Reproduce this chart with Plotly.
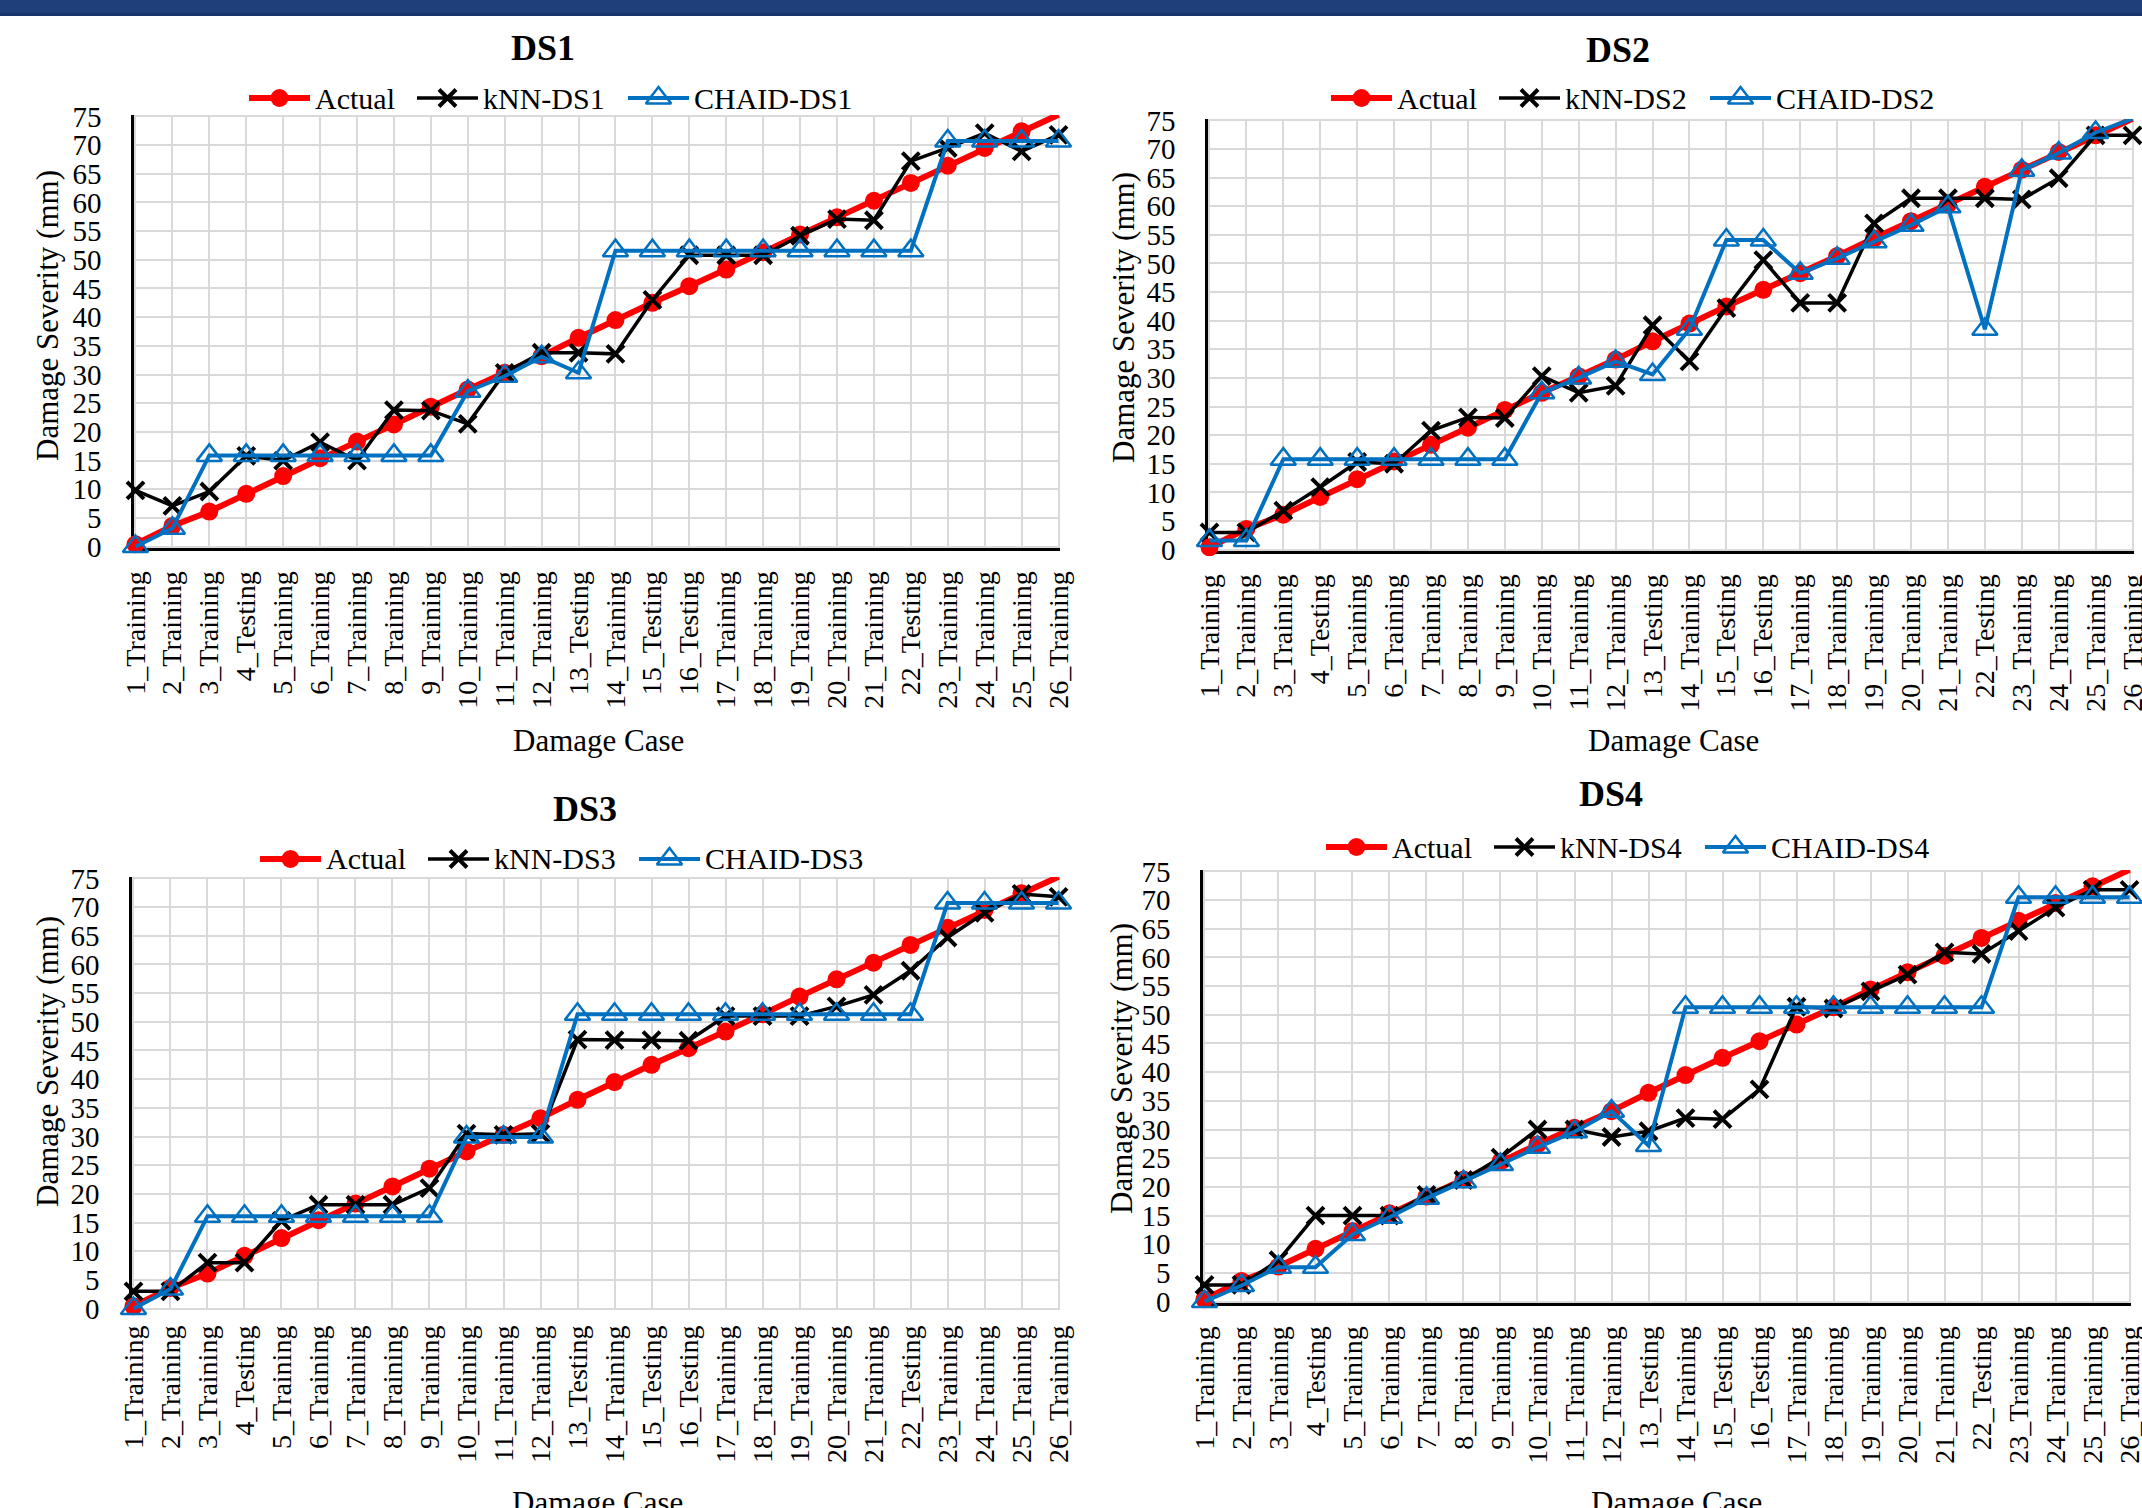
import plotly.graph_objects as go

W, H = 2142, 1508

# ---- data -------------------------------------------------------------
cases = ["1_Training", "2_Training", "3_Training", "4_Testing", "5_Training",
         "6_Training", "7_Training", "8_Training", "9_Training", "10_Training",
         "11_Training", "12_Training", "13_Testing", "14_Training", "15_Testing",
         "16_Testing", "17_Training", "18_Training", "19_Training", "20_Training",
         "21_Training", "22_Testing", "23_Training", "24_Training", "25_Training",
         "26_Training"]

y_ticks = [0, 5, 10, 15, 20, 25, 30, 35, 40, 45, 50, 55, 60, 65, 70, 75]

actual = [0.4, 3.6, 6.1, 9.2, 12.3, 15.4, 18.3, 21.3, 24.4, 27.4, 30.3, 33.2, 36.4,
          39.5, 42.5, 45.4, 48.3, 51.3, 54.4, 57.4, 60.3, 63.4, 66.4, 69.5, 72.4, 75.3]

knn_ds1 = [9.8, 7.1, 9.6, 15.8, 15.0, 18.2, 15.0, 23.8, 23.7, 21.4, 30.3, 33.8, 33.8,
           33.6, 43.0, 50.8, 50.8, 50.8, 54.2, 57.1, 56.9, 67.2, 69.5, 72.1, 68.9, 71.8]
chaid_ds1 = [0.0, 3.2, 15.9, 15.9, 15.9, 15.9, 15.9, 15.9, 15.9, 27.1, 29.7, 33.1, 30.3,
             51.6, 51.6, 51.6, 51.6, 51.6, 51.6, 51.6, 51.6, 51.6, 70.7, 70.7, 70.7, 70.7]

knn_ds2 = [3.0, 3.0, 6.8, 10.9, 15.3, 15.0, 20.8, 23.1, 23.0, 30.3, 27.4, 28.6, 39.2,
           32.9, 42.2, 50.6, 43.1, 43.1, 57.0, 61.4, 61.4, 61.4, 61.2, 64.9, 72.4, 72.4]
chaid_ds2 = [1.6, 1.6, 15.8, 15.8, 15.8, 15.8, 15.8, 15.8, 15.8, 27.4, 30.0, 32.9, 30.6,
             38.5, 54.1, 54.1, 48.3, 50.9, 53.8, 56.7, 59.9, 38.5, 66.3, 69.3, 72.9, 75.3]

knn_ds3 = [3.0, 3.0, 8.0, 8.0, 15.3, 18.1, 18.1, 18.1, 21.0, 30.5, 30.3, 30.5, 46.9,
           46.8, 46.8, 46.7, 51.0, 51.0, 51.0, 52.7, 54.7, 58.9, 64.7, 69.0, 72.3, 71.8]
chaid_ds3 = [0.0, 3.4, 16.1, 16.1, 16.1, 16.1, 16.1, 16.1, 16.1, 29.9, 29.9, 29.9, 51.3,
             51.3, 51.3, 51.3, 51.3, 51.3, 51.3, 51.3, 51.3, 51.3, 70.7, 70.7, 70.7, 70.7]

knn_ds4 = [2.9, 2.9, 7.2, 15.0, 15.0, 15.0, 18.6, 21.2, 25.1, 30.0, 30.0, 28.7, 29.7,
           32.0, 31.8, 37.0, 51.4, 51.1, 54.1, 57.0, 60.9, 60.6, 64.6, 68.7, 71.8, 71.8]
chaid_ds4 = [0.0, 2.8, 6.0, 6.0, 11.7, 14.7, 18.0, 20.9, 23.9, 26.9, 29.6, 33.2, 27.2,
             51.3, 51.3, 51.3, 51.3, 51.3, 51.3, 51.3, 51.3, 51.3, 70.5, 70.5, 70.5, 70.5]

# ---- styling ----------------------------------------------------------
FONT = "Liberation Serif"
RED, BLACK, BLUE, GRID = "#FF0000", "#000000", "#0070C0", "#D9D9D9"

STYLE_ACTUAL = dict(line=dict(color=RED, width=6),
                    marker=dict(symbol="circle", size=18, color=RED))
STYLE_KNN = dict(line=dict(color=BLACK, width=3.5),
                 marker=dict(symbol="x-thin", size=17, color=BLACK,
                             line=dict(color=BLACK, width=4)))
STYLE_CHAID = dict(line=dict(color=BLUE, width=4),
                   marker=dict(symbol="triangle-up-open", size=22, color=BLUE,
                               line=dict(color=BLUE, width=2.5)))

# pixel boxes of each chart: plot area (left, top, right, bottom) and text anchors
PANELS = [
    dict(name="DS1", knn=knn_ds1, chaid=chaid_ds1, box=(134, 115, 1060, 548),
         title=(543, 48), legend=(249, 98), ytitle=(47, 316), xtitle=(598, 740), xline=True),
    dict(name="DS2", knn=knn_ds2, chaid=chaid_ds2, box=(1208, 119, 2134, 551),
         title=(1618, 50), legend=(1331, 98), ytitle=(1123, 318), xtitle=(1673, 740), xline=True),
    dict(name="DS3", knn=knn_ds3, chaid=chaid_ds3, box=(132, 877, 1060, 1310),
         title=(585, 809), legend=(260, 859), ytitle=(47, 1062), xtitle=(597, 1502), xline=False),
    dict(name="DS4", knn=knn_ds4, chaid=chaid_ds4, box=(1203, 870, 2131, 1303),
         title=(1611, 794), legend=(1326, 847), ytitle=(1121, 1069), xtitle=(1676, 1502), xline=True),
]

LEGEND_OFFSETS = [0, 168, 379]
LEGEND_LINE = 61


def fx(v):
    return v / W


def fy(v):
    return 1 - v / H


fig = go.Figure()
annotations = []
layout_axes = {}

for i, p in enumerate(PANELS, start=1):
    sfx = "" if i == 1 else str(i)
    xa, ya = "x" + sfx, "y" + sfx
    left, top, right, bottom = p["box"]

    series = [("Actual", actual, STYLE_ACTUAL),
              ("kNN-" + p["name"], p["knn"], STYLE_KNN),
              ("CHAID-" + p["name"], p["chaid"], STYLE_CHAID)]

    for label, vals, style in series:
        fig.add_trace(go.Scatter(x=cases, y=vals, name=label, mode="lines+markers",
                                 line=style["line"], marker=style["marker"],
                                 xaxis=xa, yaxis=ya, cliponaxis=False, showlegend=False))

    layout_axes["xaxis" + sfx] = dict(
        domain=[fx(left), fx(right)], anchor=ya, type="category", automargin=False,
        categoryorder="array", categoryarray=cases, range=[-0.04, len(cases) - 1 + 0.04],
        dtick=1, showgrid=True, gridcolor=GRID, gridwidth=2, zeroline=False,
        showline=p["xline"], linecolor=BLACK, linewidth=3, ticks="",
        tickangle=-90, ticklabelstandoff=9, layer="below traces", fixedrange=True,
        tickfont=dict(family=FONT, size=28, color=BLACK))
    layout_axes["yaxis" + sfx] = dict(
        domain=[fy(bottom), fy(top)], anchor=xa, range=[-0.25, 75.25], automargin=False,
        tickmode="array", tickvals=y_ticks, showgrid=True, gridcolor=GRID, gridwidth=2,
        zeroline=False, showline=True, linecolor=BLACK, linewidth=2.5, ticks="",
        ticklabelstandoff=24, layer="below traces", fixedrange=True,
        tickfont=dict(family=FONT, size=29, color=BLACK))

    # chart title
    annotations.append(dict(text=p["name"], x=fx(p["title"][0]), y=fy(p["title"][1]),
                            xref="paper", yref="paper", showarrow=False,
                            xanchor="center", yanchor="middle",
                            font=dict(family=FONT, size=36, color=BLACK, weight="bold")))
    # axis titles
    annotations.append(dict(text="Damage Severity (mm)", x=fx(p["ytitle"][0]), y=fy(p["ytitle"][1]),
                            xref="paper", yref="paper", showarrow=False, textangle=-90,
                            xanchor="center", yanchor="middle",
                            font=dict(family=FONT, size=31, color=BLACK)))
    annotations.append(dict(text="Damage Case", x=fx(p["xtitle"][0]), y=fy(p["xtitle"][1]),
                            xref="paper", yref="paper", showarrow=False,
                            xanchor="center", yanchor="middle",
                            font=dict(family=FONT, size=31, color=BLACK)))

    # legend row: line sample with marker, followed by the series name
    lx0, ly = p["legend"]
    for (label, _, style), off in zip(series, LEGEND_OFFSETS):
        x0 = lx0 + off
        x1 = x0 + LEGEND_LINE
        fig.add_trace(go.Scatter(x=[x0, x1], y=[ly, ly], mode="lines", line=style["line"],
                                 xaxis="x5", yaxis="y5", cliponaxis=False, showlegend=False,
                                 hoverinfo="skip"))
        fig.add_trace(go.Scatter(x=[(x0 + x1) / 2], y=[ly], mode="markers", marker=style["marker"],
                                 xaxis="x5", yaxis="y5", cliponaxis=False, showlegend=False,
                                 hoverinfo="skip"))
        annotations.append(dict(text=label, x=fx(x1 + 4), y=fy(ly), xref="paper", yref="paper",
                                showarrow=False, xanchor="left", yanchor="middle", borderpad=0,
                                font=dict(family=FONT, size=30, color=BLACK)))

# pixel-space overlay used for the legend samples
layout_axes["xaxis5"] = dict(domain=[0, 1], range=[0, W], visible=False, anchor="y5",
                             fixedrange=True, automargin=False)
layout_axes["yaxis5"] = dict(domain=[0, 1], range=[H, 0], visible=False, anchor="x5",
                             fixedrange=True, automargin=False)

# header band across the top
shapes = [
    dict(type="rect", xref="paper", yref="paper", x0=0, x1=1, y0=fy(15), y1=1,
         fillcolor="#1F3F7B", line=dict(width=0), layer="above"),
    dict(type="rect", xref="paper", yref="paper", x0=0, x1=1, y0=fy(16), y1=fy(13),
         fillcolor="#16336A", line=dict(width=0), layer="above"),
]

fig.update_layout(template="none", width=W, height=H, autosize=False,
                  margin=dict(l=0, r=0, t=0, b=0, pad=0, autoexpand=False),
                  paper_bgcolor="white", plot_bgcolor="rgba(0,0,0,0)",
                  showlegend=False, annotations=annotations, shapes=shapes,
                  **layout_axes)

# page without the default body margin so the figure sits flush with the window
PAGE_CSS = ("document.body.style.margin='0';document.body.style.padding='0';"
            "document.documentElement.style.overflow='hidden';")

fig.write_html("out.html", post_script=PAGE_CSS)
